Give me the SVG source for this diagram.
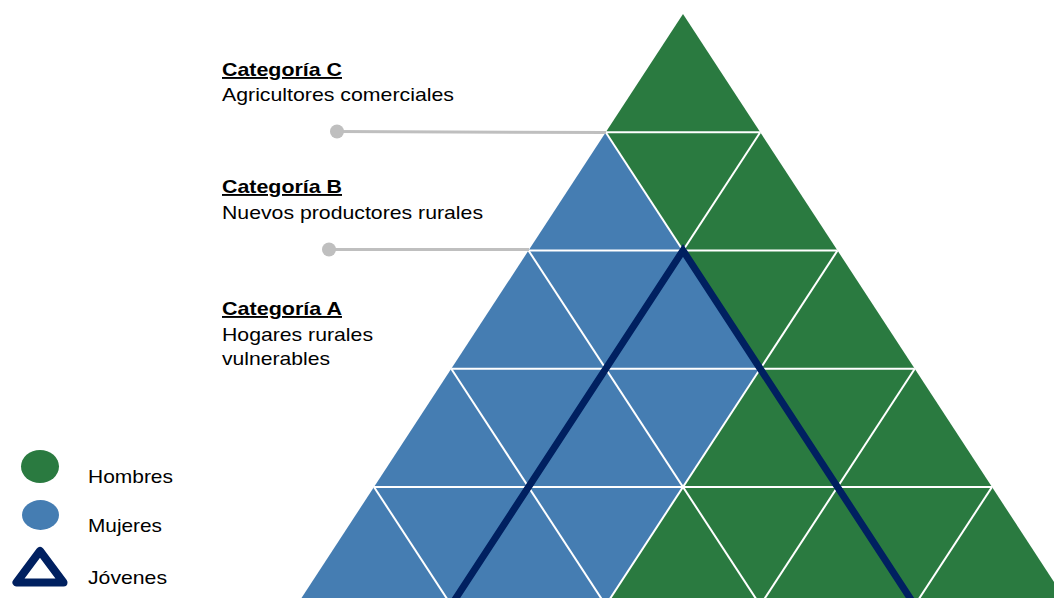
<svg xmlns="http://www.w3.org/2000/svg" width="1054" height="598" viewBox="0 0 1054 598">
  <style>
    .g { fill: #2A7A40; }
    .b { fill: #457DB2; }
    .grid { stroke: #FFFFFF; stroke-width: 2; fill: none; }
    .youth { stroke: #002060; stroke-width: 7; fill: none; stroke-linejoin: miter; }
    .lead { stroke: #BFBFBF; stroke-width: 3; fill: none; }
    .dot { fill: #BFBFBF; }
    .t { font-family: "Liberation Sans", Arial, sans-serif; font-size: 19px; fill: #000000; }
    .h { font-weight: bold; text-decoration: underline; }
  </style>

  <!-- pyramid cells: rows of 118.25px, cell side 154.5px, apex at (683,14) -->
  <g id="hombres">
    <polygon id="c0u0" class="g" points="683,14 605.75,132.25 760.25,132.25"/>
    <polygon id="c1d0" class="g" points="605.75,132.25 760.25,132.25 683,250.5"/>
    <polygon id="c1u1" class="g" points="760.25,132.25 683,250.5 837.5,250.5"/>
    <polygon id="c2d1" class="g" points="683,250.5 837.5,250.5 760.25,368.75"/>
    <polygon id="c2u2" class="g" points="837.5,250.5 760.25,368.75 914.75,368.75"/>
    <polygon id="c3u2" class="g" points="760.25,368.75 683,487 837.5,487"/>
    <polygon id="c3d2" class="g" points="760.25,368.75 914.75,368.75 837.5,487"/>
    <polygon id="c3u3" class="g" points="914.75,368.75 837.5,487 992,487"/>
    <polygon id="c4u2" class="g" points="683,487 605.75,605.25 760.25,605.25"/>
    <polygon id="c4d2" class="g" points="683,487 837.5,487 760.25,605.25"/>
    <polygon id="c4u3" class="g" points="837.5,487 760.25,605.25 914.75,605.25"/>
    <polygon id="c4d3" class="g" points="837.5,487 992,487 914.75,605.25"/>
    <polygon id="c4u4" class="g" points="992,487 914.75,605.25 1069.25,605.25"/>
  </g>

  <g id="mujeres">
    <polygon id="c1u0" class="b" points="605.75,132.25 528.5,250.5 683,250.5"/>
    <polygon id="c2u0" class="b" points="528.5,250.5 451.25,368.75 605.75,368.75"/>
    <polygon id="c2d0" class="b" points="528.5,250.5 683,250.5 605.75,368.75"/>
    <polygon id="c2u1" class="b" points="683,250.5 605.75,368.75 760.25,368.75"/>
    <polygon id="c3u0" class="b" points="451.25,368.75 374,487 528.5,487"/>
    <polygon id="c3d0" class="b" points="451.25,368.75 605.75,368.75 528.5,487"/>
    <polygon id="c3u1" class="b" points="605.75,368.75 528.5,487 683,487"/>
    <polygon id="c3d1" class="b" points="605.75,368.75 760.25,368.75 683,487"/>
    <polygon id="c4u0" class="b" points="374,487 296.75,605.25 451.25,605.25"/>
    <polygon id="c4d0" class="b" points="374,487 528.5,487 451.25,605.25"/>
    <polygon id="c4u1" class="b" points="528.5,487 451.25,605.25 605.75,605.25"/>
    <polygon id="c4d1" class="b" points="528.5,487 683,487 605.75,605.25"/>
  </g>

  <!-- white cell borders -->
  <g id="grid" class="grid">
    <line x1="605.75" y1="132.25" x2="760.25" y2="132.25"/>
    <line x1="528.5" y1="250.5" x2="837.5" y2="250.5"/>
    <line x1="451.25" y1="368.75" x2="914.75" y2="368.75"/>
    <line x1="374" y1="487" x2="992" y2="487"/>
    <line x1="760.25" y1="132.25" x2="451.25" y2="605.25"/>
    <line x1="837.5" y1="250.5" x2="605.75" y2="605.25"/>
    <line x1="914.75" y1="368.75" x2="760.25" y2="605.25"/>
    <line x1="992" y1="487" x2="914.75" y2="605.25"/>
    <line x1="605.75" y1="132.25" x2="914.75" y2="605.25"/>
    <line x1="528.5" y1="250.5" x2="760.25" y2="605.25"/>
    <line x1="451.25" y1="368.75" x2="605.75" y2="605.25"/>
    <line x1="374" y1="487" x2="451.25" y2="605.25"/>
  </g>

  <!-- youth outline -->
  <g id="jovenes">
    <polyline class="youth" points="451.25,605.25 683,250.5 914.75,605.25"/>
  </g>

  <!-- category leaders -->
  <g id="connectors">
    <line class="lead" x1="337" y1="131.5" x2="606" y2="132.5"/>
    <circle class="dot" cx="337" cy="131.5" r="7"/>
    <line class="lead" x1="329" y1="249.5" x2="529" y2="249.5"/>
    <circle class="dot" cx="329" cy="249.5" r="7"/>
  </g>

  <g id="cat-c">
    <text class="t h" x="222" y="76" textLength="120" lengthAdjust="spacingAndGlyphs">Categoría C</text>
    <text class="t" x="222" y="101" textLength="232" lengthAdjust="spacingAndGlyphs">Agricultores comerciales</text>
  </g>
  <g id="cat-b">
    <text class="t h" x="222" y="193" textLength="120" lengthAdjust="spacingAndGlyphs">Categoría B</text>
    <text class="t" x="222" y="219" textLength="261" lengthAdjust="spacingAndGlyphs">Nuevos productores rurales</text>
  </g>
  <g id="cat-a">
    <text class="t h" x="222" y="315" textLength="120" lengthAdjust="spacingAndGlyphs">Categoría A</text>
    <text class="t" x="222" y="341" textLength="151" lengthAdjust="spacingAndGlyphs">Hogares rurales</text>
    <text class="t" x="222" y="365" textLength="108" lengthAdjust="spacingAndGlyphs">vulnerables</text>
  </g>

  <!-- legend -->
  <g id="legend">
    <ellipse cx="40" cy="466.5" rx="19" ry="16.5" fill="#2A7A40"/>
    <text class="t" x="88" y="483" textLength="85" lengthAdjust="spacingAndGlyphs">Hombres</text>
    <ellipse cx="40.5" cy="515" rx="18.5" ry="15" fill="#457DB2"/>
    <text class="t" x="88" y="532" textLength="74" lengthAdjust="spacingAndGlyphs">Mujeres</text>
    <polygon points="40,551 16.5,582.5 63.5,582.5" fill="none" stroke="#002060" stroke-width="8" stroke-linejoin="round"/>
    <text class="t" x="88" y="584" textLength="79" lengthAdjust="spacingAndGlyphs">Jóvenes</text>
  </g>
</svg>
